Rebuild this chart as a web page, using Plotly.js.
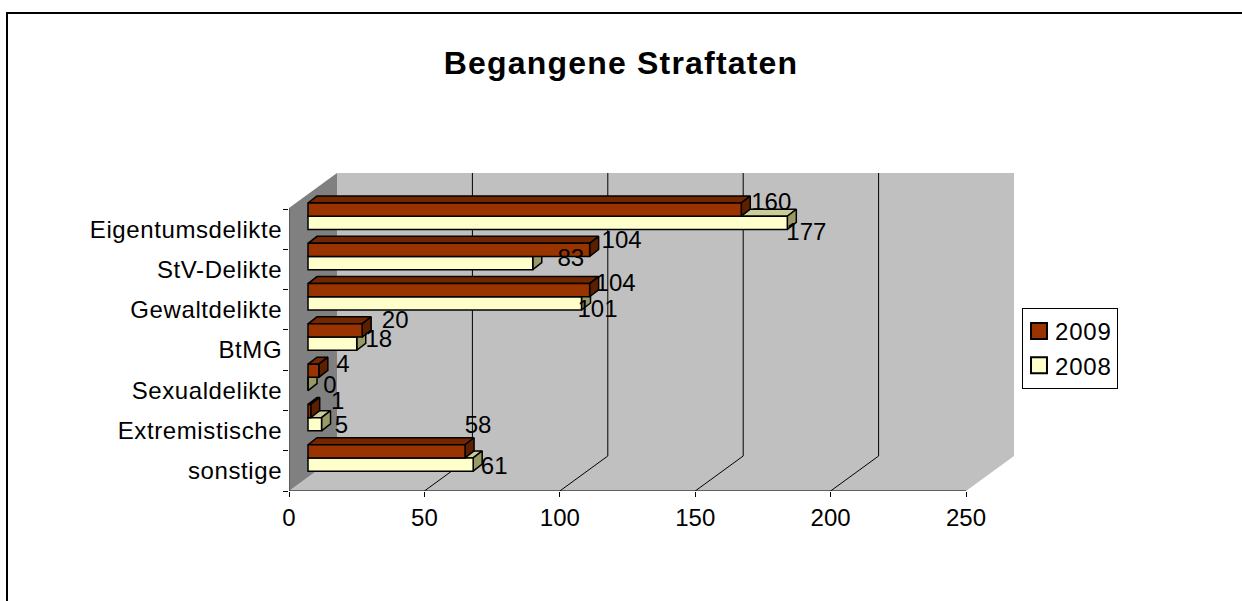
<!DOCTYPE html>
<html><head><meta charset="utf-8">
<script src="https://cdn.plot.ly/plotly-3.0.1.min.js"></script>
<style>
html,body{margin:0;padding:0;background:#fff}
.ytick text{letter-spacing:.6px}
.gtitle{letter-spacing:1.2px}
.legendtext{letter-spacing:.8px}
</style>
</head><body><div id="chart" style="width:1242px;height:601px"></div>
<script>
const categories = ["Eigentumsdelikte","StV-Delikte","Gewaltdelikte","BtMG","Sexualdelikte","Extremistische","sonstige"];
const values2009 = [160,104,104,20,4,1,58];
const values2008 = [177,83,101,18,0,5,61];
const tickValuesX = [0,50,100,150,200,250];

// layout geometry (px)
const L=289, R0=966, B=491, T0=209, WALLX=48, WALLY=35, TOP=173, RIGHT=1014;
const PXU=(R0-L)/250, PXC=(B-T0)/7;
const xMax=(RIGHT-L)/PXU;
const yTop=((TOP-T0)/PXC)-0.5, yBot=6.5;
const wallDx=WALLX/PXU, wallDy=WALLY/PXC;
const base=19/PXU, barH=13.2/PXC, depthX=9/PXU, depthY=7/PXC;
const y2009=i=>i-0.485, y2008=i=>i-0.157;

// label nudges in px relative to bar end (series-specific)
const nudge2009=[[30,-6],[32,-8],[26,-5],[33,-8],[24,-5],[27,-8],[13,-24]];
const nudge2008=[[19,11],[38,-3],[16,8],[22,-3],[22,3],[20,3],[21,3]];

const ink='#000', w=1.5;
function faces(vals,yf,colTop,colSide,z,name){
  const tx=[],ty=[],sx=[],sy=[];
  vals.forEach((v,i)=>{
    const c=yf(i), t=c-barH/2, b=c+barH/2, e=base+v;
    tx.push(base,base+depthX,e+depthX,e,base,null);
    ty.push(t,t-depthY,t-depthY,t,t,null);
    sx.push(e,e+depthX,e+depthX,e,e,null);
    sy.push(t,t-depthY,b-depthY,b,t,null);
  });
  const mk=(x,y,col)=>({type:'scatter',mode:'lines',x,y,fill:'toself',fillcolor:col,
    line:{color:ink,width:w},showlegend:false,hoverinfo:'skip',zorder:z,name});
  return [mk(tx,ty,colTop),mk(sx,sy,colSide)];
}
function front(vals,yf,col,z,name,rank){
  return {type:'bar',orientation:'h',name,x:vals,y:vals.map((v,i)=>yf(i)),base:vals.map(()=>base),
    width:barH,marker:{color:col,line:{color:ink,width:w}},zorder:z,legendrank:rank,hoverinfo:'x'};
}
function labels(vals,yf,n,z){
  return {type:'scatter',mode:'text',showlegend:false,hoverinfo:'skip',zorder:z,cliponaxis:false,
    x:vals.map((v,i)=>base+v+n[i][0]/PXU),
    y:vals.map((v,i)=>yf(i)+n[i][1]/PXC),
    text:vals.map(String),textposition:'middle center',
    textfont:{family:'Liberation Sans, Arial, sans-serif',size:24,color:'#000'}};
}
const traces=[
  ...faces(values2008,y2008,'#cccc99','#999966',1,'2008 faces'),
  front(values2008,y2008,'#ffffcc',2,'2008',2),
  ...faces(values2009,y2009,'#732600','#5c1f00',3,'2009 faces'),
  front(values2009,y2009,'#993300',4,'2009',1),
  labels(values2009,y2009,nudge2009,5),
  labels(values2008,y2008,nudge2008,5)
];

const shapes=[];
const poly=(pts,fill,line)=>shapes.push({type:'path',xref:'x',yref:'y',layer:'below',
  path:'M'+pts.map(p=>p.join(',')).join('L')+'Z',fillcolor:fill,line:line||{width:0}});
const seg=(x0,y0,x1,y1,color,width,layer)=>shapes.push({type:'line',xref:'x',yref:'y',layer:layer||'below',x0,y0,x1,y1,line:{color,width}});
const yBack=yBot-wallDy;
poly([[wallDx,yTop],[xMax,yTop],[xMax,yBack],[wallDx,yBack]],'#c0c0c0');
poly([[0,yBot],[250,yBot],[xMax,yBack],[wallDx,yBack]],'#c0c0c0');
poly([[0,yTop+wallDy],[wallDx,yTop],[wallDx,yBack],[0,yBot]],'#808080');
tickValuesX.slice(1,-1).forEach(v=>{
  seg(wallDx+v,yTop,wallDx+v,yBack,'#000',1);
  seg(v,yBot,wallDx+v,yBack,'#000',1);
});
seg(0,yBot,250,yBot,'#000',1.2);
seg(0,-0.5,0,yBot,'#404040',1.2);
// chart frame (open on the right: the top rule runs off the picture)
const W=RIGHT-L,H=B-TOP;
shapes.push({type:'rect',xref:'paper',yref:'paper',layer:'above',
  x0:(7-L)/W,x1:(1260-L)/W,y0:(B-640)/H,y1:(B-13)/H,line:{color:'#000',width:2},fillcolor:'rgba(0,0,0,0)'});

const layout={
  width:1242,height:601,autosize:false,
  paper_bgcolor:'#fff',plot_bgcolor:'#fff',
  font:{family:'Liberation Sans, Arial, sans-serif',size:24,color:'#000'},
  margin:{l:L,r:1242-RIGHT,t:TOP,b:601-B,pad:0},
  title:{text:'<b>Begangene Straftaten</b>',font:{size:32,family:'Liberation Sans, Arial, sans-serif',color:'#000'},
    x:0.5,xref:'container',y:1-63/601,yref:'container',xanchor:'center',yanchor:'middle'},
  barmode:'overlay',
  xaxis:{range:[0,xMax],tickmode:'array',tickvals:tickValuesX,ticks:'outside',ticklen:5,tickwidth:1,tickcolor:'#000',
    showgrid:false,zeroline:false,showline:false,tickfont:{size:24}},
  yaxis:{range:[yBot,yTop],tickmode:'array',tickvals:categories.map((c,i)=>i),ticktext:categories,ticks:'outside',ticklen:1,tickcolor:'rgba(0,0,0,0)',
    showgrid:false,zeroline:false,showline:false,tickfont:{size:24},
    minor:{tickmode:'array',tickvals:[-0.5,0.5,1.5,2.5,3.5,4.5,5.5,6.5],ticks:'outside',ticklen:5,tickcolor:'#000',tickwidth:1,showgrid:false}},
  legend:{x:(1022-L)/W,xanchor:'left',y:(B-308)/H,yanchor:'top',bordercolor:'#000',borderwidth:1,bgcolor:'#fff',
    font:{size:24},indentation:-8,itemclick:false,itemdoubleclick:false},
  shapes,
  showlegend:true
};
Plotly.newPlot('chart',traces,layout,{displayModeBar:false,staticPlot:true}).then(()=>{
  document.querySelectorAll('.legend .legendpoints path').forEach(p=>{
    p.setAttribute('transform',(p.getAttribute('transform')||'')+' translate(4,0) scale(1.33)');
  });
});
</script></body></html>
